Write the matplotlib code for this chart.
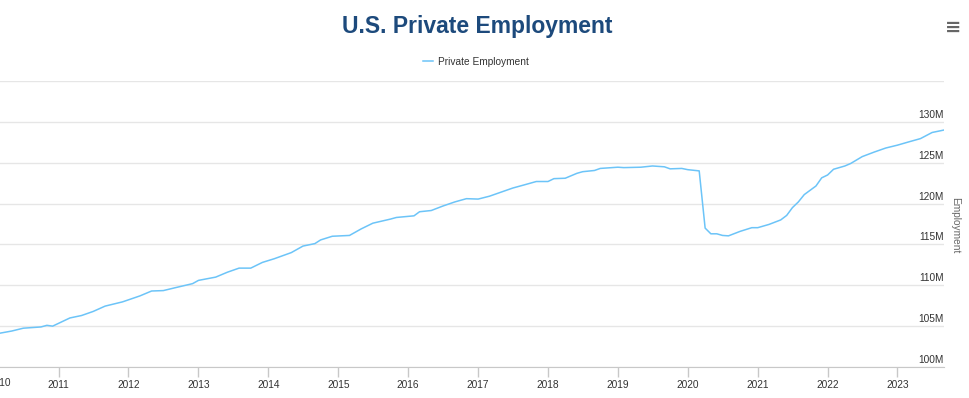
import matplotlib
matplotlib.use("Agg")
import matplotlib.pyplot as plt
import matplotlib.dates as mdates
import pandas as pd

plt.rcParams['font.family'] = ['Liberation Sans', 'DejaVu Sans']

# Private employment, millions
months = [
    "2010-03", "2010-05", "2010-07", "2010-10", "2010-11", "2010-12",
    "2011-03", "2011-05", "2011-07", "2011-09", "2011-12",
    "2012-03", "2012-05", "2012-07", "2012-09", "2012-12",
    "2013-01", "2013-04", "2013-06", "2013-08", "2013-10", "2013-12",
    "2014-02", "2014-05", "2014-07", "2014-09", "2014-10", "2014-12",
    "2015-03", "2015-05", "2015-07", "2015-10", "2015-11",
    "2016-02", "2016-03", "2016-05", "2016-07", "2016-09", "2016-11",
    "2017-01", "2017-03", "2017-05", "2017-07", "2017-09", "2017-11",
    "2018-01", "2018-02", "2018-04", "2018-06", "2018-07", "2018-09", "2018-10",
    "2019-01", "2019-02", "2019-05", "2019-07", "2019-09", "2019-10", "2019-12",
    "2020-01", "2020-03", "2020-04", "2020-05", "2020-06", "2020-07", "2020-08",
    "2020-10", "2020-12",
    "2021-01", "2021-03", "2021-05", "2021-06", "2021-07", "2021-08", "2021-09",
    "2021-11", "2021-12",
    "2022-01", "2022-02", "2022-04", "2022-05", "2022-07", "2022-09", "2022-11",
    "2023-01", "2023-03", "2023-05", "2023-07", "2023-09",
]
employment = [
    104.14, 104.4, 104.75, 104.9, 105.1, 105.0,
    106.0, 106.3, 106.8, 107.45, 107.97,
    108.7, 109.3, 109.35, 109.7, 110.2,
    110.6, 111.0, 111.6, 112.1, 112.1, 112.8,
    113.25, 114.0, 114.8, 115.1, 115.55, 116.0,
    116.1, 116.9, 117.6, 118.1, 118.3,
    118.5, 119.0, 119.15, 119.7, 120.2, 120.6,
    120.55, 120.9, 121.4, 121.9, 122.3, 122.7,
    122.7, 123.05, 123.1, 123.7, 123.9, 124.05, 124.3,
    124.45, 124.4, 124.45, 124.6, 124.5, 124.25, 124.3,
    124.15, 124.0, 117.0, 116.3, 116.3, 116.1, 116.05,
    116.6, 117.05,
    117.05, 117.45, 118.0, 118.55, 119.5, 120.2, 121.1,
    122.15, 123.15,
    123.5, 124.2, 124.6, 124.9, 125.75, 126.3, 126.8,
    127.15, 127.55, 127.95, 128.7, 129.0,
]
years = list(range(2010, 2024))
y_ticks = [100, 105, 110, 115, 120, 125, 130, 135]

dates = pd.to_datetime(months)
fs = 7.3

fig = plt.figure(figsize=(9.69, 3.98), dpi=100)
ax = fig.add_axes([0.0, 1 - 367 / 398, 944 / 969, (367 - 81) / 398])

line, = ax.plot(dates, employment, color='#6cc4f8', linewidth=1.1,
                label='Private Employment')

ax.set_xlim(dates[0], dates[-1])
ax.set_ylim(y_ticks[0], y_ticks[-1])

# y grid, labels sit just above the lines on the right
ax.set_yticks(y_ticks)
ax.yaxis.grid(True, color='#e6e6e6', linewidth=1)
ax.tick_params(axis='y', length=0, labelleft=False)
for v in y_ticks[:-1]:
    ax.text(1.0, v + 0.25, f"{v}M", transform=ax.get_yaxis_transform(),
            ha='right', va='bottom', fontsize=fs, color='#333333')

# x ticks at each year start
tick_dates = pd.to_datetime([f"{y}-01-01" for y in years[1:]])
ax.set_xticks(tick_dates)
ax.xaxis.set_major_formatter(mdates.DateFormatter('%Y'))
ax.tick_params(axis='x', length=7, width=1, color='#c8c8c8', labelsize=fs,
               labelcolor='#333333', pad=2)
# first year label, mostly cut off by the left edge
fig.text(11 / 969, 1 - 383 / 398, str(years[0]), ha='right', va='center',
         fontsize=fs, color='#333333')

for side in ['left', 'right', 'top']:
    ax.spines[side].set_visible(False)
ax.spines['bottom'].set_color('#c8c8c8')
ax.set_axisbelow(True)

fig.text(955 / 969, 1 - 225 / 398, 'Employment', rotation=270,
         ha='center', va='center', fontsize=fs, color='#666666')

fig.text(477 / 969, 1 - 26 / 398, 'U.S. Private Employment', ha='center',
         va='center', fontsize=16.5, fontweight='bold', color='#1d4a7c')

# legend
fig.legend(handles=[line], loc='center', bbox_to_anchor=(476 / 969, 1 - 62 / 398),
           frameon=False, fontsize=fs, handlelength=0.9, handletextpad=0.5,
           labelcolor='#333333')

fig.text(953 / 969, 1 - 27 / 398, '\u2261', ha='center', va='center',
         fontsize=14, color='#666666', family='DejaVu Sans', fontweight='bold')

fig.savefig('out.png', dpi=100)
